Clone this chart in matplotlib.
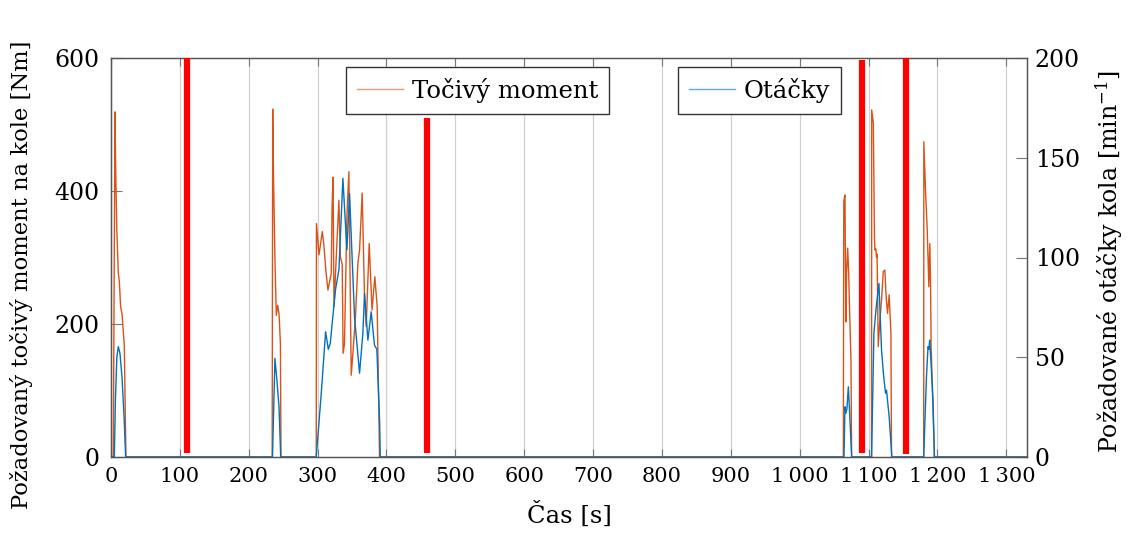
import matplotlib
matplotlib.use("Agg")
import matplotlib.pyplot as plt
from matplotlib.lines import Line2D
from matplotlib.ticker import FuncFormatter

# --- data ---
torque_t = [0, 3.3, 5.8, 7, 8.5, 10.6, 12, 14, 16, 19.3, 21.7,
            234, 234.8, 236, 238, 240, 242, 244, 246, 246.8,
            298, 298.3, 302, 306.8, 309, 312, 315, 319.8, 321, 322.4, 323.8, 327,
            330.9, 333, 335.7, 337, 339, 342.5, 345.4, 348.8, 351.2, 355, 358.5,
            360.9, 364.7, 368, 370.5, 374.9, 379, 383.1, 386.5, 389.9,
            1063.3, 1064, 1065.7, 1067, 1068, 1069.6, 1071, 1072, 1074.4, 1075.4,
            1104.3, 1104.5, 1106.9, 1108.5, 1109.3, 1110.5, 1111.5, 1112.3, 1114,
            1116, 1118.8, 1121.3, 1123.7, 1125.5, 1127.5, 1129.9, 1132.4, 1133.3,
            1180, 1180.2, 1183, 1185, 1187.5, 1188.9, 1190, 1190.8, 1195.6, 1330]
torque = [0, 0, 519, 420, 340, 277, 265, 226, 215, 168, 0,
          0, 523, 420, 300, 213, 228, 215, 170, 0,
          0, 351, 304, 339, 320, 280, 251, 276, 376, 421, 226, 299,
          386, 301, 290, 156, 170, 361, 429, 123, 156, 211, 292,
          311, 397, 246, 196, 321, 221, 271, 226, 0,
          0, 385, 394, 203, 276, 314, 280, 236, 146, 0,
          0, 522, 502, 330, 311, 313, 300, 305, 166,
          200, 236, 279, 281, 240, 216, 244, 186, 0,
          0, 474, 391, 346, 256, 321, 260, 166, 0, 0]

speed_t = [0, 4.8, 6.5, 8.5, 10.6, 13, 16, 19, 21.3,
           234.5, 238, 241, 244, 246.4,
           298, 305.3, 311.6, 315.5, 318.4, 322, 326, 331, 336.7, 342.5, 346.4,
           350.2, 353.6, 360.9, 365.7, 368.1, 373, 377.8, 382.6, 386, 390, 391,
           1064.3, 1065.7, 1067, 1068.5, 1070.6, 1072.5, 1075.4,
           1104.3, 1107.7, 1111, 1115, 1118.8, 1122, 1124.6, 1126, 1129.9, 1133.8,
           1180, 1184, 1186.3, 1187.5, 1188.7, 1191, 1193.5, 1195.6, 1330]
speed = [0, 0, 30, 50, 55.3, 52, 40, 20, 0,
         0, 49.5, 38, 25, 0,
         0, 32, 62.8, 54, 57, 70, 84, 94, 139.7, 103.8, 132,
         99, 70, 42, 62, 82, 58.6, 72.8, 56, 54, 18, 0,
         0, 25.2, 21.9, 24, 35.2, 22, 0,
         0, 62, 75, 87, 53.6, 40, 32, 33.5, 20, 0,
         0, 40, 55.3, 54, 58.6, 45, 28.6, 0, 0]

# red marker bars (time, bottom and top value in Nm)
marks_t = [111, 459, 1090, 1155]
marks_bottom = [6, 6, 6, 4]
marks_top = [600, 510, 597, 600]

c_torque = '#D95319'
c_speed = '#0072BD'

plt.rcParams['font.family'] = ['DejaVu Serif']
plt.rcParams['mathtext.fontset'] = 'dejavuserif'
plt.rcParams['font.size'] = 17.5
plt.rcParams['xtick.labelsize'] = 15
plt.rcParams['ytick.labelsize'] = 17

fig = plt.figure(figsize=(11.36, 5.37), dpi=100)
ax1 = fig.add_axes([111/1136, 80/537, 916/1136, 399/537])
ax2 = ax1.twinx()

ax1.grid(axis='x', color='#d0d0d0', lw=0.9)
ax1.set_axisbelow(True)
ax1.plot(torque_t, torque, color=c_torque, lw=1.0)
ax2.plot(speed_t, speed, color=c_speed, lw=1.0)

# bars given in Nm, drawn on top axis (speed scale = Nm / 3)
ax2.vlines(marks_t, [v/3 for v in marks_bottom], [v/3 for v in marks_top],
           colors='#ff0000', lw=4.5, zorder=5)

ax1.set_xlim(0, 1330)
ax1.set_ylim(0, 600)
ax2.set_ylim(0, 200)
ax1.set_xticks(range(0, 1301, 100))
ax1.set_yticks([0, 200, 400, 600])
ax2.set_yticks([0, 50, 100, 150, 200])
ax1.xaxis.set_major_formatter(FuncFormatter(
    lambda v, p: f"{int(v):,}".replace(",", "\u2009")))

for ax in (ax1, ax2):
    for s in ax.spines.values():
        s.set_color('#555555')
        s.set_linewidth(0.9)
ax1.tick_params(axis='x', direction='in', length=6, color='#777777', pad=7, top=True)
ax1.tick_params(axis='y', direction='in', length=8, color='#777777', pad=8.5)
ax2.tick_params(axis='y', direction='in', length=8, color='#777777', pad=5.5)

ax1.set_xlabel('Čas [s]')
ax1.xaxis.set_label_coords(0.501, -0.112)
ax1.set_ylabel('Požadovaný točivý moment na kole [Nm]', fontsize=16.3)
ax1.yaxis.set_label_coords(-0.085, 0.456)
ax2.set_ylabel(r'Požadované otáčky kola [min$^{-1}$]', fontsize=17)
ax2.yaxis.set_label_coords(1.073, 0.489)

leg_kw = dict(loc='upper left', bbox_transform=fig.transFigure, fancybox=False,
              framealpha=1, edgecolor='#333333', borderpad=0.45,
              handlelength=1.9, handletextpad=0.35, borderaxespad=0)
leg1 = ax2.legend([Line2D([], [], color=c_torque, lw=1.0, alpha=0.6)], ['Točivý moment'],
                  bbox_to_anchor=(346/1136, 1 - 67/537), **leg_kw)
leg1.get_frame().set_linewidth(1.0)
ax2.add_artist(leg1)
leg2 = ax2.legend([Line2D([], [], color=c_speed, lw=1.0, alpha=0.6)], ['Otáčky'],
                  bbox_to_anchor=(678/1136, 1 - 67/537), **leg_kw)
leg2.get_frame().set_linewidth(1.0)

fig.savefig('out.png', dpi=100)
